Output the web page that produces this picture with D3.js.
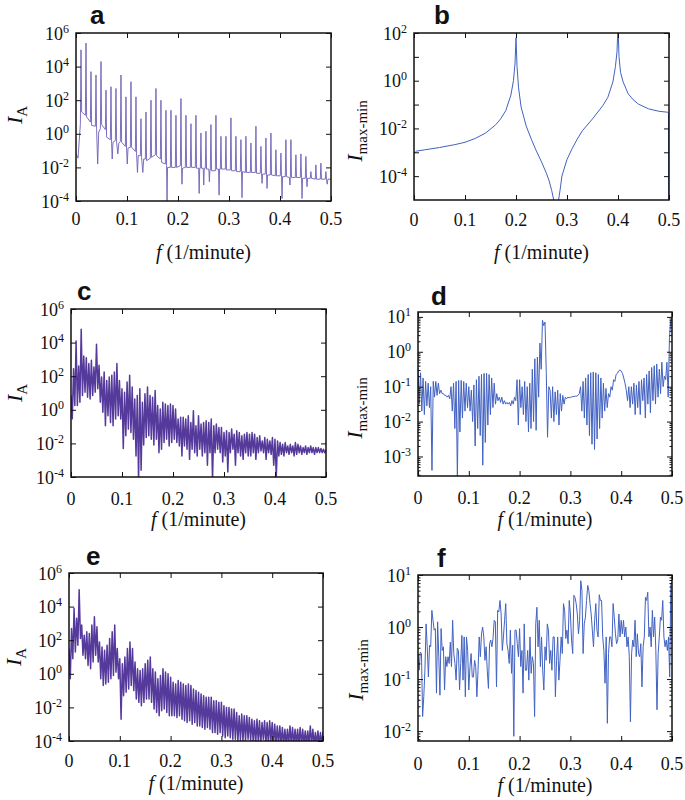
<!DOCTYPE html>
<html><head><meta charset="utf-8">
<script src="https://cdn.jsdelivr.net/npm/d3@7"></script>
<style>body{margin:0;background:#fff}svg{display:block}</style>
</head><body>
<svg id="fig" width="685" height="800"></svg>
<script>
// ---------------- data (values are log10 of intensity) ----------------
const xTickValues = [0, 0.1, 0.2, 0.3, 0.4, 0.5];
const xTickLabels = ["0", "0.1", "0.2", "0.3", "0.4", "0.5"];
const xTitleMain = "f";
const xTitleRest = " (1/minute)";

// panel a: [frequency, log10 I_A]
const aPoints = [
[0,-1.2],[0.004,-1.45],[0.0086,0.6],[0.0098,5.0],[0.011,1.3],
[0.0184,1.1],[0.0196,5.4],[0.0208,1.0],
[0.0282,0.7],[0.0294,3.7],[0.0306,0.5],
[0.038,0.45],[0.0392,3.5],[0.0404,0.25],[0.0425,-1.8],[0.0445,0.1],
[0.0478,0.3],[0.049,4.3],[0.0502,0.55],
[0.0576,0.25],[0.0588,2.6],[0.06,-0.2],
[0.0674,-0.35],[0.0686,2.8],[0.0698,-0.6],[0.071,-1.5],[0.0725,-0.5],
[0.0772,-0.4],[0.0784,2.7],[0.0796,-0.5],[0.082,-1.2],[0.084,-0.55],
[0.087,-0.45],[0.0882,3.5],[0.0894,-0.5],
[0.0968,-0.75],[0.098,2.2],[0.0992,-0.9],[0.1005,-1.8],[0.102,-0.85],
[0.1066,-0.8],[0.1078,3.1],[0.109,-0.8],
[0.1164,-1.05],[0.1176,2.2],[0.1188,-1.2],[0.1205,-2.3],[0.122,-1.3],
[0.1262,-1.3],[0.1274,0.9],[0.1286,-1.4],[0.131,-2.3],[0.1328,-1.5],
[0.136,-1.5],[0.1372,1.3],[0.1384,-1.6],
[0.1458,-1.45],[0.147,2.0],[0.1482,-1.4],
[0.1556,-1.25],[0.1568,2.7],[0.158,-1.3],
[0.1654,-1.5],[0.1666,2.0],[0.1678,-1.7],
[0.1752,-1.8],[0.1764,1.4],[0.1776,-1.9],[0.1785,-4.0],[0.1795,-2.0],
[0.185,-2.0],[0.1862,1.4],[0.1874,-2.0],
[0.1948,-2.0],[0.196,1.1],[0.1972,-2.0],
[0.2046,-1.9],[0.2058,2.1],[0.207,-2.0],[0.2078,-3.0],[0.2088,-2.05],
[0.2144,-2.0],[0.2156,1.1],[0.2168,-2.0],
[0.2242,-2.0],[0.2254,0.6],[0.2266,-2.0],
[0.234,-2.0],[0.2352,1.1],[0.2364,-2.05],[0.2405,-2.05],[0.2415,-3.55],[0.2425,-2.05],
[0.2438,-2.05],[0.245,0.05],[0.2462,-2.05],[0.2495,-2.05],[0.2505,-3.05],[0.2515,-2.05],
[0.2536,-2.05],[0.2548,0.15],[0.256,-2.1],[0.2605,-2.1],[0.2615,-2.85],[0.2625,-2.15],
[0.2634,-2.15],[0.2646,0.55],[0.2658,-2.2],
[0.2732,-2.2],[0.2744,1.1],[0.2756,-2.1],[0.2795,-2.1],[0.2805,-3.65],[0.2815,-2.1],
[0.283,-2.1],[0.2842,-0.15],[0.2854,-2.1],
[0.2928,-2.1],[0.294,-0.15],[0.2952,-2.15],
[0.3026,-2.15],[0.3038,0.95],[0.305,-2.2],
[0.3124,-2.2],[0.3136,-0.15],[0.3148,-2.25],
[0.3222,-2.25],[0.3234,-0.35],[0.3246,-2.25],[0.3255,-3.8],[0.3265,-2.25],
[0.332,-2.3],[0.3332,-0.15],[0.3344,-2.3],
[0.3418,-2.3],[0.343,-0.55],[0.3442,-2.3],
[0.3516,-2.3],[0.3528,0.45],[0.354,-2.35],
[0.3614,-2.35],[0.3626,-0.75],[0.3638,-2.35],[0.3648,-2.95],[0.3658,-2.4],
[0.3712,-2.4],[0.3724,-0.25],[0.3736,-2.4],[0.3746,-3.25],[0.3756,-2.45],
[0.381,-2.45],[0.3822,0.05],[0.3834,-2.45],
[0.3908,-2.5],[0.392,-0.95],[0.3932,-2.5],
[0.4006,-2.5],[0.4018,-1.15],[0.403,-2.5],[0.404,-3.85],[0.405,-2.55],
[0.4104,-2.55],[0.4116,-0.35],[0.4128,-2.55],[0.4185,-2.6],[0.4195,-3.05],[0.4203,-2.6],
[0.4214,-0.35],[0.4226,-2.6],
[0.43,-2.6],[0.4312,-1.25],[0.4324,-2.6],
[0.4398,-2.6],[0.441,-1.2],[0.4422,-2.6],[0.4432,-3.85],[0.4442,-2.65],
[0.4496,-2.65],[0.4508,-1.35],[0.452,-2.65],[0.453,-3.15],[0.454,-2.65],
[0.4594,-2.65],[0.4606,-2.25],[0.4618,-2.65],
[0.4692,-2.7],[0.4704,-1.85],[0.4716,-2.7],
[0.479,-2.7],[0.4802,-1.75],[0.4814,-2.7],
[0.4888,-2.7],[0.49,-2.25],[0.4912,-2.7],[0.4925,-3.0],[0.494,-2.7],
[0.5,-2.7]
];

// panel b: [frequency, log10 I_max-min]
const bPoints = [
[0,-3.05],[0.005,-2.95],[0.02,-2.9],[0.05,-2.8],[0.08,-2.68],[0.1,-2.58],[0.12,-2.42],
[0.14,-2.2],[0.16,-1.85],[0.17,-1.6],[0.18,-1.25],[0.19,-0.6],[0.195,0.0],[0.198,0.7],
[0.2,1.8],[0.202,0.6],[0.205,-0.3],[0.21,-1.1],[0.22,-1.9],[0.23,-2.45],[0.24,-2.95],
[0.25,-3.4],[0.26,-3.9],[0.265,-4.2],[0.27,-4.6],[0.274,-5.0],[0.277,-6],[0.28,-8],
[0.282,-6],[0.2835,-5],[0.287,-4.5],[0.29,-4.0],[0.3,-3.3],[0.31,-2.85],[0.32,-2.45],
[0.33,-2.1],[0.35,-1.6],[0.37,-1.05],[0.38,-0.7],[0.39,-0.05],[0.395,0.6],[0.398,1.2],
[0.4,2.3],[0.402,1.0],[0.405,0.35],[0.41,-0.05],[0.42,-0.55],[0.43,-0.8],[0.44,-0.98],
[0.46,-1.18],[0.48,-1.28],[0.497,-1.32],[0.499,-1.33],[0.4995,-6]
];

// panel c: upper / lower values of the dense spectrum, every 0.005
const cUpper = [
0.86,2.45,4.1,2.6,4.8,3.2,3.1,2.75,2.95,2.55,
3.9,2.65,1.95,2.25,1.75,1.95,2.05,2.25,2.75,1.75,
1.25,1.05,1.65,2.05,1.35,0.65,0.85,1.25,0.45,0.95,
1.35,0.85,0.75,1.15,0.25,0.05,0.45,0.35,0.25,0.35,
0.25,0.05,-0.55,-0.45,-0.45,-0.55,-0.35,-0.75,-0.05,-0.95,
-0.35,-0.85,-0.75,-0.65,-0.75,-0.55,-0.95,-0.85,-1.05,-1.05,
-1.35,-1.25,-1.35,-1.15,-1.45,-1.25,-1.35,-1.55,-1.45,-1.35,
-1.45,-1.35,-1.45,-1.65,-1.55,-1.85,-1.65,-1.75,-1.85,-1.65,
-1.75,-1.85,-1.95,-2.05,-1.95,-2.15,-2.05,-2.15,-1.95,-2.05,
-2.15,-2.25,-2.15,-2.25,-2.15,-2.25,-2.25,-2.25,-2.3,-2.35,
-2.4];
const cLower = [
-0.54,0.26,0.26,0.45,0.85,1.05,0.75,0.65,0.85,1.05,
1.25,0.45,-0.15,-0.95,-0.35,-0.75,-0.95,-0.55,-0.35,-0.55,
-2.3,-1.55,-1.15,-1.35,-1.75,-2.75,-4.2,-3.6,-2.1,-1.65,
-1.55,-1.75,-2.1,-1.75,-2.55,-2.35,-1.95,-1.75,-2.15,-1.95,
-1.75,-1.95,-2.15,-2.75,-2.15,-2.35,-2.95,-2.35,-2.55,-2.75,
-2.35,-2.75,-2.55,-3.3,-2.55,-4.2,-2.55,-2.35,-2.55,-3.1,
-2.75,-3.7,-2.55,-2.35,-3.3,-2.55,-2.75,-2.95,-2.55,-2.75,
-2.75,-2.55,-2.95,-2.55,-2.45,-2.55,-2.95,-2.55,-2.65,-3.3,
-4.0,-2.75,-2.65,-2.75,-2.55,-2.65,-2.55,-2.75,-2.65,-2.55,
-2.65,-2.55,-2.65,-2.55,-2.55,-2.65,-2.55,-2.55,-2.55,-2.55,
-2.5];

// panel d: log10 I_max-min every 0.0025
const dLog = [
-0.45,-1.5,-0.6,-1.7,-0.75,-1.8,-0.85,-1.55,-0.9,-1.6,
-1.0,-3.4,-0.85,-1.3,-0.85,-1.25,-0.9,-1.2,-1.1,-1.2,
-1.2,-1.25,-1.25,-1.3,-1.25,-1.35,-1.0,-1.7,-0.9,-2.2,
-0.85,-3.6,-0.82,-2.3,-0.82,-1.9,-0.85,-1.7,-0.9,-1.6,
-1.0,-1.7,-1.1,-2.0,-0.95,-2.7,-0.8,-2.2,-0.7,-2.4,
-0.65,-3.25,-0.62,-2.6,-0.62,-2.1,-0.65,-1.8,-0.75,-1.6,
-0.9,-1.5,-1.2,-1.4,-1.3,-1.45,-1.3,-1.5,-1.4,-1.5,
-1.45,-1.5,-1.45,-1.55,-1.4,-1.5,-1.3,-1.4,-0.8,-2.1,
-0.8,-1.6,-1.0,-1.8,-0.85,-2.0,-1.0,-2.3,-0.9,-2.2,
-0.5,-2.0,-0.2,-2.25,-0.15,-1.3,0.25,-0.5,0.9,0.75,
0.85,-0.6,-2.45,-1.0,-1.1,-1.9,-1.0,-2.0,-1.15,-1.8,
-1.1,-2.1,-1.2,-1.7,-1.25,-1.5,-1.3,-1.35,-1.3,-1.32,
-1.3,-1.3,-1.28,-1.28,-1.27,-1.27,-1.25,-1.2,-1.0,-1.7,
-0.85,-1.9,-0.75,-2.1,-0.65,-2.4,-0.6,-2.65,-0.58,-2.8,
-0.6,-2.5,-0.65,-2.2,-0.75,-1.9,-0.9,-1.7,-1.05,-1.6,
-1.2,-1.3,-1.0,-1.1,-0.8,-0.85,-0.65,-0.62,-0.55,-0.52,
-0.55,-0.62,-0.75,-0.9,-1.1,-1.4,-1.0,-1.6,-1.0,-1.5,
-0.9,-1.8,-0.95,-1.6,-0.85,-1.8,-0.8,-1.4,-0.75,-1.9,
-0.65,-1.5,-0.55,-1.75,-0.45,-1.4,-0.4,-1.5,-0.35,-1.3,
-0.5,-1.2,-0.3,-1.0,-0.7,-0.8,-0.3,-1.3,0.4,0.9,
0.95];

// panel e: upper / lower values of the dense spectrum, every 0.005
const eUpper = [
1.5,2.7,3.9,3.3,5.0,2.9,2.3,2.5,2.4,2.9,
3.4,2.8,1.9,1.6,1.4,1.7,2.1,2.5,2.9,1.5,
0.9,0.6,1.0,1.5,1.9,1.5,0.7,0.3,0.2,0.3,
0.6,0.8,1.0,0.3,0.1,-0.3,-0.1,0.3,0.1,0.0,
-0.2,-0.5,-0.6,-0.4,-0.5,-0.6,-0.7,-0.6,-0.7,-0.9,
-1.0,-1.1,-1.2,-1.3,-1.4,-1.4,-1.4,-1.6,-1.6,-1.7,
-1.7,-1.9,-2.0,-2.0,-2.1,-2.1,-2.3,-2.5,-2.4,-2.5,
-2.5,-2.6,-2.7,-2.8,-2.7,-2.8,-2.9,-2.8,-2.9,-2.8,
-2.9,-3.0,-3.1,-3.1,-3.2,-3.3,-3.3,-3.1,-3.2,-3.3,
-3.3,-3.2,-3.3,-3.4,-3.4,-3.1,-3.3,-3.5,-3.4,-3.5,
-3.5];
const eLower = [
-0.3,0.9,1.3,1.7,2.1,1.1,0.9,0.5,0.3,0.7,
1.1,0.7,-0.3,-0.7,-0.6,-0.5,-0.3,-0.1,0.1,-0.3,
-2.7,-1.3,-1.1,-0.9,-0.7,-1.0,-1.5,-1.7,-1.9,-1.7,
-1.5,-1.5,-1.7,-2.1,-2.3,-2.5,-2.2,-2.1,-2.3,-2.5,
-2.5,-2.5,-2.6,-2.5,-2.7,-2.8,-2.9,-2.8,-3.0,-2.9,
-3.1,-3.1,-3.2,-3.3,-3.2,-3.3,-3.5,-3.5,-3.6,-3.5,
-3.7,-3.8,-3.7,-3.8,-3.9,-3.9,-4.0,-3.95,-4.0,-4.0,
-3.9,-4.0,-4.0,-4.2,-4.0,-4.2,-3.9,-4.2,-4.2,-4.0,
-4.2,-4.2,-4.2,-4.2,-4.2,-4.2,-4.2,-4.2,-4.2,-4.2,
-4.2,-4.2,-4.2,-4.2,-4.2,-4.2,-4.2,-4.2,-4.2,-4.2,
-4.2];

// panel f: log10 I_max-min, evenly sampled from 0 to 0.5
const fLog = [
-0.51,-0.83,-0.48,-0.51,-1.72,-1.34,-0.83,0.06,-0.38,-0.96,
-0.35,-0.38,0.32,0.13,-0.06,-0.03,-1.27,0.10,-0.57,-1.31,
-0.03,-0.45,-0.38,-1.21,-0.57,-0.76,-0.57,-0.70,-0.29,-0.76,
0.13,-0.51,-0.70,-1.02,-0.41,-0.45,-1.21,-0.70,-0.16,-1.02,
-0.19,-1.34,-0.19,-0.45,-1.21,-0.76,-0.51,-0.96,-0.96,-0.64,
-0.76,-1.34,-0.83,-0.19,-0.57,-0.13,0,-0.19,-0.64,-0.38,
-0.83,-1.18,-0.32,-0.25,-0.38,-0.22,0.13,0.10,-1.15,0.32,
0.29,0.51,0.25,-0.45,-0.19,0.13,0.45,-0.32,-0.45,-0.70,
-0.06,-0.89,-0.35,-2.1,-0.06,-0.06,-0.32,-0.57,-0.03,-0.76,
-0.45,-1.27,0.06,-0.83,-0.83,-0.45,-1.02,-0.19,-0.89,-0.57,
-0.70,-1.72,0.06,0.38,-0.38,0.13,-0.76,-0.19,-0.83,-1.21,
-0.38,-0.64,0.06,-0.06,-0.70,-0.45,-0.83,-0.19,-0.19,-1.34,
-0.64,-0.19,-1.02,-0.64,-0.19,-0.51,0.45,0.32,-0.22,-0.06,
-0.32,0.51,0.25,-0.25,-0.51,0.61,0.57,0.45,0.25,-0.13,
0.13,0.89,0.70,-0.51,0.06,0.19,0.51,0.80,0.70,0.45,
0.25,-0.06,-0.38,0.13,0.45,-0.06,-0.19,0.62,0.51,0.51,
-0.19,-0.45,-1.08,-0.19,-1.85,-0.51,-0.19,-0.19,-0.38,0.45,
0.19,-0.13,-0.32,-0.25,0.25,-0.19,0.13,-0.13,0.13,-0.19,
0,-0.38,-0.19,-0.57,-1.82,-0.51,-0.25,-0.38,0.13,-0.57,
-0.13,-0.51,-0.57,-0.32,-1.15,-0.38,-0.19,0.57,0.51,0.67,
-0.19,0,-0.38,0.32,-0.19,0.19,-0.45,-1.59,-0.51,-0.19,
0.19,0.13,0.51,-0.19,-0.38,-0.25,-0.45,-0.19,-0.96,0.83,
0.86];

// y tick exponents
const yLabelsIA = [6, 4, 2, 0, -2, -4];
const yLabelsB = [2, 0, -2, -4];
const yTicksB = [2, 1, 0, -1, -2, -3, -4];
const yLabelsD = [1, 0, -1, -2, -3];
const yLabelsF = [1, 0, -1, -2];

// ---------------- build point lists ----------------
const zig = (up, lo, step) => up.flatMap((v, i) => [[i * step, v], [i * step + step / 2, lo[i]]]);
const cPoints = zig(cUpper, cLower, 0.005);
const ePoints = zig(eUpper, eLower, 0.005);
const dPoints = dLog.map((v, i) => [i * 0.0025, v]);
const fPoints = fLog.map((v, i) => [i * 0.5 / (fLog.length - 1), v]);

// ---------------- drawing ----------------
const SERIF = "'Liberation Serif','Times New Roman',serif";
const SANS = "'Liberation Sans',Arial,sans-serif";
const svg = d3.select("#fig");

const panels = [
 {id:"a", pts:aPoints, color:"#6f60b6", w:0.9, left:76, right:331, top:33, bottom:201, yMin:-4, yMax:6,
  labels:yLabelsIA, ticks:yLabelsIA, minor:false, sub:"A", xlOff:24, xtY:259, ytX:22, ytY:115, letter:[90,24]},
 {id:"b", pts:bPoints, color:"#4262c2", w:1, left:414, right:669, top:33, bottom:200, yMin:-5, yMax:2,
  labels:yLabelsB, ticks:yTicksB, minor:false, sub:"max-min", xlOff:26, xtY:259, ytX:362, ytY:131, letter:[434,24]},
 {id:"c", pts:cPoints, color:"#553a9c", w:1.5, left:71, right:326, top:309, bottom:477, yMin:-4, yMax:6,
  labels:yLabelsIA, ticks:yLabelsIA, minor:false, sub:"A", xlOff:28, xtY:526, ytX:22, ytY:393, letter:[77,300]},
 {id:"d", pts:dPoints, color:"#4262c2", w:1, left:418, right:672, top:312, bottom:476, yMin:-3.56, yMax:1.14,
  labels:yLabelsD, ticks:yLabelsD, minor:true, sub:"max-min", xlOff:28, xtY:526, ytX:362, ytY:408, letter:[431,305]},
 {id:"e", pts:ePoints, color:"#553a9c", w:1.5, left:69, right:323, top:573, bottom:741, yMin:-4, yMax:6,
  labels:yLabelsIA, ticks:yLabelsIA, minor:false, sub:"A", xlOff:26, xtY:790, ytX:21, ytY:657, letter:[86,565]},
 {id:"f", pts:fPoints, color:"#4262c2", w:1, left:418, right:672, top:575, bottom:741, yMin:-2.19, yMax:1.0,
  labels:yLabelsF, ticks:yLabelsF, minor:true, sub:"max-min", xlOff:29, xtY:792, ytX:363, ytY:670, letter:[437,567]}
];

panels.forEach(cfg => {
  const x = d3.scaleLinear().domain([0, 0.5]).range([cfg.left, cfg.right]);
  const y = d3.scaleLog().domain([Math.pow(10, cfg.yMin), Math.pow(10, cfg.yMax)]).range([cfg.bottom, cfg.top]);
  const g = svg.append("g");
  const clipId = "clip-" + cfg.id;
  svg.append("clipPath").attr("id", clipId).append("rect")
    .attr("x", cfg.left).attr("y", cfg.top)
    .attr("width", cfg.right - cfg.left).attr("height", cfg.bottom - cfg.top);

  const line = d3.line().x(d => x(d[0])).y(d => y(Math.pow(10, d[1])));
  g.append("path").datum(cfg.pts)
    .attr("clip-path", `url(#${clipId})`)
    .attr("d", line).attr("fill", "none")
    .attr("stroke", cfg.color).attr("stroke-width", cfg.w)
    .attr("stroke-linejoin", "round");

  const put = (axis, tr) => g.append("g").attr("transform", tr).call(axis)
    .call(s => s.select(".domain").remove())
    .call(s => s.selectAll("line").attr("stroke", "#111").attr("stroke-width", 1))
    .call(s => s.selectAll("text").remove());
  put(d3.axisBottom(x).tickValues(xTickValues).tickSize(-5), `translate(0,${cfg.bottom})`);
  put(d3.axisTop(x).tickValues(xTickValues).tickSize(-5), `translate(0,${cfg.top})`);
  const yt = cfg.ticks.map(e => Math.pow(10, e));
  put(d3.axisLeft(y).tickValues(yt).tickSize(-5), `translate(${cfg.left},0)`);
  put(d3.axisRight(y).tickValues(yt).tickSize(-5), `translate(${cfg.right},0)`);
  if (cfg.minor) {
    const mv = [];
    for (let e = Math.floor(cfg.yMin); e < Math.ceil(cfg.yMax); e++)
      for (let m = 2; m <= 9; m++) {
        const v = m * Math.pow(10, e);
        if (v > Math.pow(10, cfg.yMin) && v < Math.pow(10, cfg.yMax)) mv.push(v);
      }
    put(d3.axisLeft(y).tickValues(mv).tickSize(-2.5), `translate(${cfg.left},0)`);
    put(d3.axisRight(y).tickValues(mv).tickSize(-2.5), `translate(${cfg.right},0)`);
  }

  g.append("rect").attr("x", cfg.left).attr("y", cfg.top)
    .attr("width", cfg.right - cfg.left).attr("height", cfg.bottom - cfg.top)
    .attr("fill", "none").attr("stroke", "#111").attr("stroke-width", 1.5);

  // x tick labels
  g.selectAll(".xl").data(xTickValues).join("text")
    .attr("x", d => x(d)).attr("y", cfg.bottom + cfg.xlOff)
    .attr("text-anchor", "middle").attr("font-family", SERIF).attr("font-size", 18)
    .attr("fill", "#111").text((d, i) => xTickLabels[i]);

  // y tick labels 10^n
  g.selectAll(".yl").data(cfg.labels).join("text")
    .attr("x", cfg.left - 7).attr("y", e => y(Math.pow(10, e)) + 6.5)
    .attr("text-anchor", "end").attr("font-family", SERIF).attr("font-size", 18).attr("fill", "#111")
    .each(function (e) {
      const t = d3.select(this);
      t.append("tspan").text("10");
      t.append("tspan").attr("dy", -7).attr("font-size", 12).text(String(e));
    });

  // x title
  const xt = g.append("text").attr("x", (cfg.left + cfg.right) / 2).attr("y", cfg.xtY)
    .attr("text-anchor", "middle").attr("font-family", SERIF).attr("font-size", 20).attr("fill", "#111");
  xt.append("tspan").attr("font-style", "italic").text(xTitleMain);
  xt.append("tspan").text(xTitleRest);

  // y title
  const ytt = g.append("text").attr("transform", `translate(${cfg.ytX},${cfg.ytY}) rotate(-90)`)
    .attr("text-anchor", "middle").attr("font-family", SERIF).attr("fill", "#111");
  ytt.append("tspan").attr("font-style", "italic").attr("font-size", 22).text("I");
  ytt.append("tspan").attr("dy", 5).attr("font-size", 15).text(cfg.sub);

  // panel letter
  g.append("text").attr("x", cfg.letter[0]).attr("y", cfg.letter[1])
    .attr("font-family", SANS).attr("font-weight", "bold").attr("font-size", 26)
    .attr("fill", "#111").text(cfg.id);
});
</script>
</body></html>
